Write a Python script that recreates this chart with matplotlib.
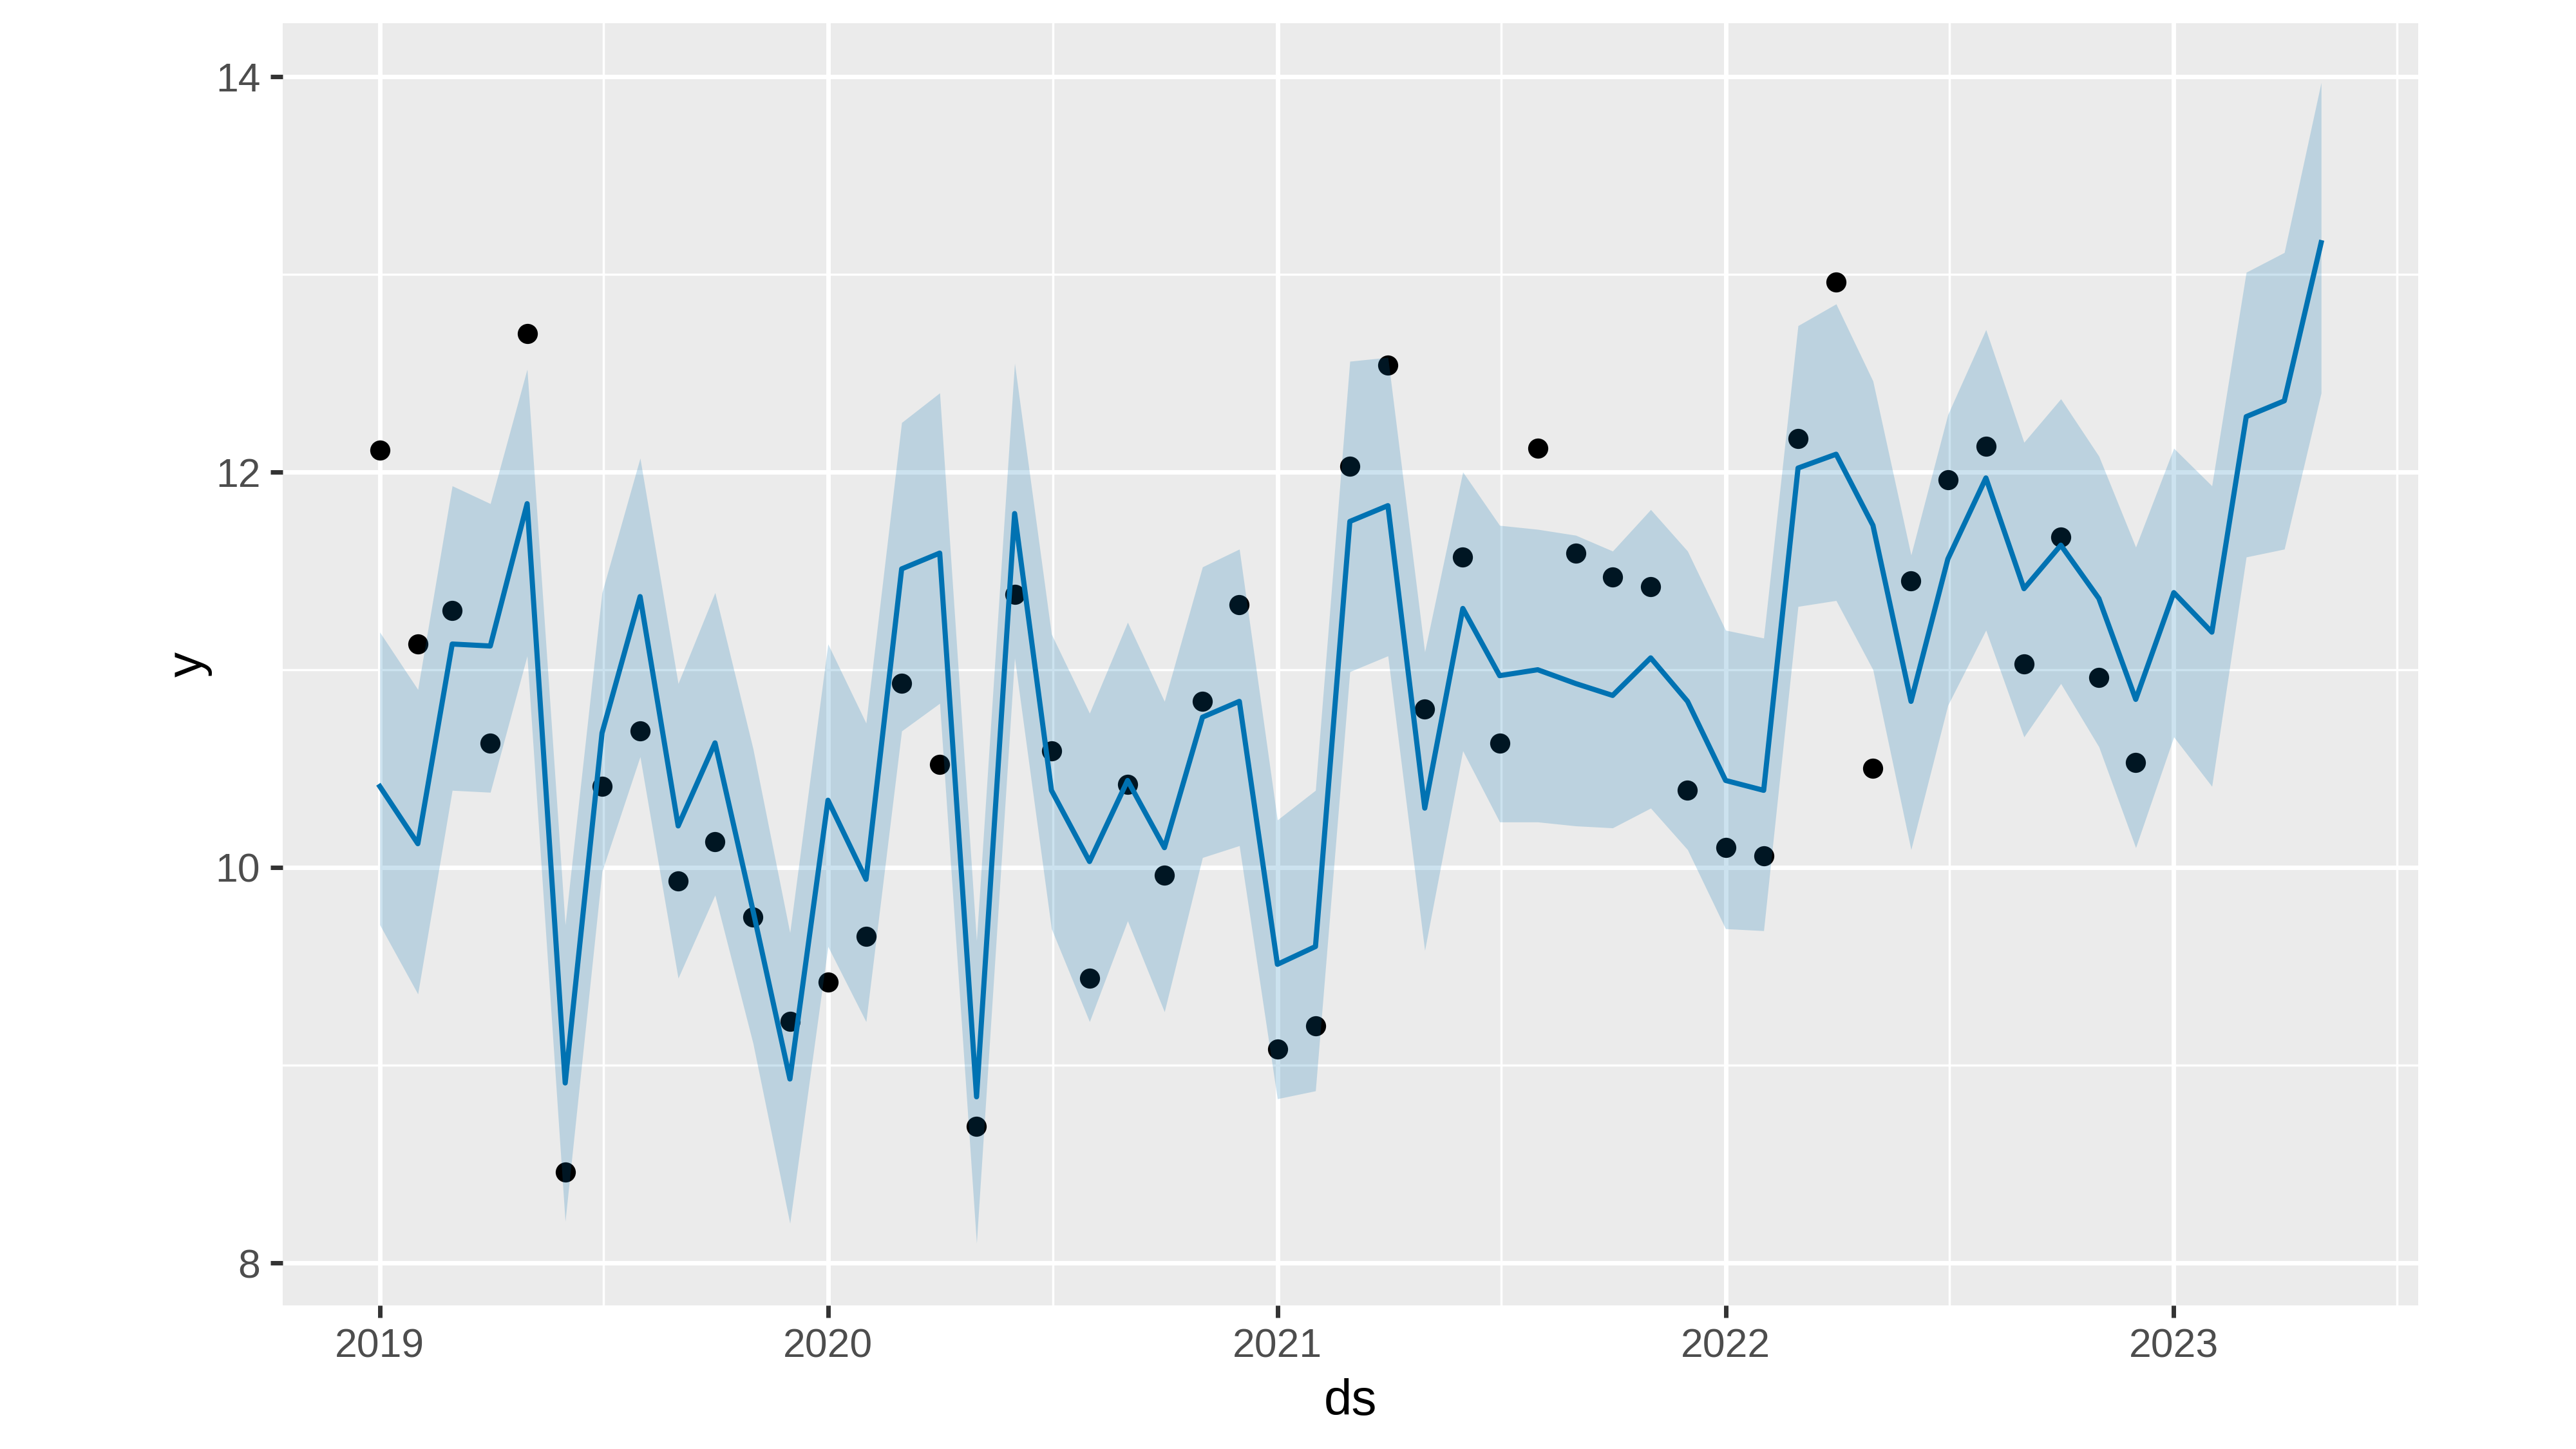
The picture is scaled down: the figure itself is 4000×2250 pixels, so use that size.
import numpy as np
import pandas as pd
import matplotlib
matplotlib.use("Agg")
import matplotlib.pyplot as plt
import matplotlib.dates as mdates

# monthly dates: history Jan 2019 - Dec 2022, forecast to May 2023
ds = pd.date_range("2019-01-01", "2023-05-01", freq="MS")

# observed values (48 months)
y = [12.11, 11.13, 11.30, 10.63, 12.70, 8.46, 10.41, 10.69, 9.93, 10.13, 9.75, 9.22,
     9.42, 9.65, 10.93, 10.52, 8.69, 11.38, 10.59, 9.44, 10.42, 9.96, 10.84, 11.33,
     9.08, 9.20, 12.03, 12.54, 10.80, 11.57, 10.63, 12.12, 11.59, 11.47, 11.42, 10.39,
     10.10, 10.06, 12.17, 12.96, 10.50, 11.45, 11.96, 12.13, 11.03, 11.67, 10.96, 10.53]

# fitted / forecast values
yhat = [10.41, 10.12, 11.13, 11.12, 11.84, 8.91, 10.68, 11.37, 10.21, 10.63, 9.78, 8.93,
        10.34, 9.94, 11.51, 11.59, 8.84, 11.79, 10.39, 10.03, 10.44, 10.10, 10.76, 10.84,
        9.51, 9.60, 11.75, 11.83, 10.30, 11.31, 10.97, 11.00, 10.93, 10.87, 11.06, 10.84,
        10.44, 10.39, 12.02, 12.09, 11.73, 10.84, 11.56, 11.97, 11.41, 11.63, 11.36, 10.85,
        11.39, 11.19, 12.28, 12.36, 13.16]

yhat_upper = [11.19, 10.90, 11.93, 11.84, 12.52, 9.71, 11.39, 12.07, 10.93, 11.39, 10.60, 9.67,
              11.13, 10.73, 12.25, 12.40, 9.63, 12.55, 11.18, 10.78, 11.24, 10.84, 11.52, 11.61,
              10.24, 10.39, 12.56, 12.58, 11.09, 12.00, 11.73, 11.71, 11.68, 11.60, 11.81, 11.60,
              11.20, 11.16, 12.74, 12.85, 12.46, 11.58, 12.29, 12.72, 12.15, 12.37, 12.08, 11.62,
              12.12, 11.93, 13.01, 13.11, 13.97]

yhat_lower = [9.71, 9.36, 10.39, 10.38, 11.07, 8.21, 9.98, 10.56, 9.44, 9.86, 9.11, 8.20,
              9.60, 9.22, 10.69, 10.83, 8.10, 11.06, 9.69, 9.22, 9.73, 9.27, 10.05, 10.11,
              8.83, 8.87, 10.99, 11.07, 9.58, 10.59, 10.23, 10.23, 10.21, 10.20, 10.30, 10.09,
              9.69, 9.68, 11.32, 11.35, 11.00, 10.09, 10.82, 11.20, 10.66, 10.93, 10.61, 10.10,
              10.66, 10.41, 11.57, 11.61, 12.40]

plt.rcParams['font.family'] = ['Liberation Sans', 'DejaVu Sans']

fig = plt.figure(figsize=(16, 9), dpi=250)
ax = fig.add_axes([0.10975, 0.0991, 0.829, 0.8849])
ax.set_facecolor('#EBEBEB')

ax.scatter(ds[:len(y)], y, s=81, color='black', linewidths=0, zorder=2)
ax.plot(ds, yhat, color='#0072B2', linewidth=2.3, zorder=3)
ax.fill_between(ds, yhat_lower, yhat_upper, color='#0072B2', alpha=0.2,
                linewidth=0, zorder=4)

# ggplot-like 5% expansion
span = ds[-1] - ds[0]
ax.set_xlim(ds[0] - 0.05 * span, ds[-1] + 0.05 * span)
ax.set_ylim(7.785, 14.27)

ax.xaxis.set_major_locator(mdates.YearLocator())
ax.xaxis.set_major_formatter(mdates.DateFormatter('%Y'))
mid_years = [mdates.date2num(pd.Timestamp(f"{yr}-07-02")) for yr in range(2018, 2024)]
ax.xaxis.set_minor_locator(matplotlib.ticker.FixedLocator(mid_years))
ax.set_yticks([8, 10, 12, 14])
ax.yaxis.set_minor_locator(matplotlib.ticker.FixedLocator([9, 11, 13]))

ax.set_axisbelow(True)
ax.grid(which='major', color='white', linewidth=2.0)
ax.grid(which='minor', color='white', linewidth=1.0)

for s in ax.spines.values():
    s.set_visible(False)

ax.tick_params(which='major', length=5.5, width=2.0, color='#333333',
               labelsize=18, labelcolor='#4D4D4D', pad=4.5)
ax.tick_params(which='minor', length=0)

ax.set_xlabel('ds', fontsize=22.5, color='black', labelpad=5.5)
ax.set_ylabel('y', fontsize=22.5, color='black', labelpad=1.5)

fig.savefig('out.png', dpi=250, facecolor='white')
